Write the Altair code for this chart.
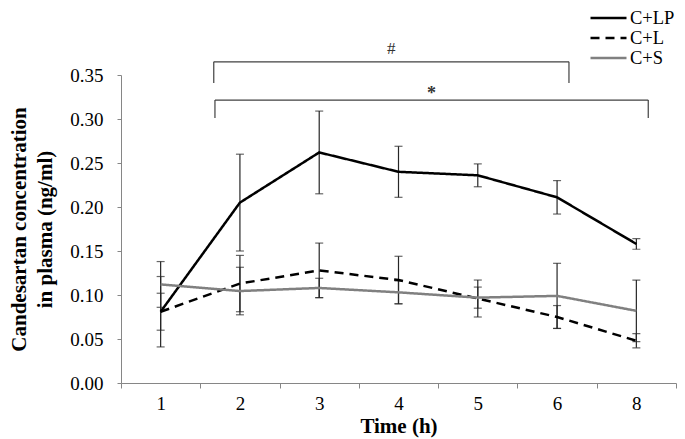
import altair as alt
import pandas as pd

# ---- data ----
time_labels = ["1", "2", "3", "4", "5", "6", "8"]
series_names = ["C+LP", "C+L", "C+S"]

lp_mean = [0.081, 0.205, 0.262, 0.240, 0.236, 0.211, 0.158]
lp_err = [0.040, 0.055, 0.047, 0.029, 0.013, 0.019, 0.006]
l_mean = [0.081, 0.113, 0.128, 0.117, 0.096, 0.075, 0.048]
l_err = [0.021, 0.032, 0.031, 0.027, 0.021, 0.013, 0.008]
s_mean = [0.112, 0.1045, 0.108, 0.103, 0.097, 0.099, 0.082]
s_err = [0.026, 0.027, 0.011, 0.013, 0.012, 0.037, 0.035]

bracket_labels = ["#", "*"]
bracket_x1 = [1.67, 1.685]
bracket_x2 = [6.15, 7.15]
bracket_y = [0.365, 0.3215]
bracket_y_end = [0.341, 0.301]
bracket_text_y = [0.3795, 0.3284]
bracket_font_size = [17, 18]
bracket_bold = [False, True]

rows = []
for name, means, errs in zip(series_names, [lp_mean, l_mean, s_mean], [lp_err, l_err, s_err]):
    for i, (m, e) in enumerate(zip(means, errs)):
        rows.append({"idx": i + 1, "series": name, "mean": m, "lo": m - e, "hi": m + e})
df = pd.DataFrame(rows)

br = pd.DataFrame({
    "label": bracket_labels, "x1": bracket_x1, "x2": bracket_x2,
    "y": bracket_y, "yend": bracket_y_end, "ty": bracket_text_y,
    "fs": bracket_font_size, "bold": bracket_bold,
})
br["xc"] = (br["x1"] + br["x2"]) / 2

FONT = "Liberation Serif"

x_scale = alt.Scale(domain=[0.5, len(time_labels) + 0.5], nice=False, zero=False)
y_scale = alt.Scale(domain=[0, 0.35], nice=False)

y_axis = alt.Axis(
    values=[0, 0.05, 0.10, 0.15, 0.20, 0.25, 0.30, 0.35],
    format=".2f",
    grid=False,
    tickSize=4,
    tickColor="#868686",
    domainColor="#868686",
    labelFont=FONT,
    labelFontSize=19,
    labelColor="black",
    labelPadding=14,
    title=["Candesartan concentration", "in plasma (ng/ml)"],
    titleFont=FONT,
    titleFontSize=21,
    titleFontWeight="bold",
    titleColor="black",
    titlePadding=14,
    titleLineHeight=26,
)

base = alt.Chart(df)

err_rule = base.mark_rule(color="#262626", strokeWidth=1.2).encode(
    x=alt.X("idx:Q", scale=x_scale, axis=None),
    y=alt.Y("lo:Q", scale=y_scale, axis=y_axis),
    y2="hi:Q",
)
err_top = base.mark_tick(color="#262626", orient="horizontal", size=8, thickness=1.2).encode(
    x=alt.X("idx:Q", scale=x_scale, axis=None), y=alt.Y("hi:Q", scale=y_scale)
)
err_bot = base.mark_tick(color="#262626", orient="horizontal", size=8, thickness=1.2).encode(
    x=alt.X("idx:Q", scale=x_scale, axis=None), y=alt.Y("lo:Q", scale=y_scale)
)

legend = alt.Legend(
    title=None,
    orient="none",
    legendX=468,
    legendY=-66,
    symbolType="stroke",
    symbolSize=1296,
    symbolStrokeWidth=2.5,
    labelFont=FONT,
    labelFontSize=18.5,
    labelColor="black",
    labelOffset=2,
    clipHeight=18,
    rowPadding=1,
    padding=0,
)

lines = base.mark_line().encode(
    x=alt.X("idx:Q", scale=x_scale, axis=None),
    y=alt.Y("mean:Q", scale=y_scale),
    color=alt.Color("series:N", scale=alt.Scale(domain=series_names, range=["#000000", "#000000", "#808080"]), legend=legend),
    strokeDash=alt.StrokeDash("series:N", scale=alt.Scale(domain=series_names, range=[[1, 0], [9, 6], [1, 0]]), legend=legend),
    strokeWidth=alt.StrokeWidth("series:N", scale=alt.Scale(domain=series_names, range=[2.5, 2.5, 2.0]), legend=legend),
)

bbase = alt.Chart(br)
b_h = bbase.mark_rule(color="#404040", strokeWidth=1.2).encode(
    x=alt.X("x1:Q", scale=x_scale, axis=None), x2="x2:Q", y=alt.Y("y:Q", scale=y_scale)
)
b_l = bbase.mark_rule(color="#404040", strokeWidth=1.2).encode(
    x=alt.X("x1:Q", scale=x_scale, axis=None), y=alt.Y("y:Q", scale=y_scale), y2="yend:Q"
)
b_r = bbase.mark_rule(color="#404040", strokeWidth=1.2).encode(
    x=alt.X("x2:Q", scale=x_scale, axis=None), y=alt.Y("y:Q", scale=y_scale), y2="yend:Q"
)


def bracket_text(bold):
    return bbase.transform_filter(
        alt.datum.bold == bold
    ).mark_text(
        font=FONT, color="#333333", baseline="middle", fontWeight="bold" if bold else "normal"
    ).encode(
        x=alt.X("xc:Q", scale=x_scale, axis=None),
        y=alt.Y("ty:Q", scale=y_scale),
        text="label:N",
        size=alt.Size("fs:Q", scale=None, legend=None),
    )


data_layers = alt.layer(err_rule, err_top, err_bot, lines, b_h, b_l, b_r,
                        bracket_text(False), bracket_text(True))

# category axis (Excel style: labels centred in bands, ticks on band edges)
axis_layer = alt.Chart(pd.DataFrame({"time": time_labels})).mark_rule(opacity=0).encode(
    x=alt.X(
        "time:O",
        sort=time_labels,
        scale=alt.Scale(type="band", domain=time_labels, paddingInner=0, paddingOuter=0),
        axis=alt.Axis(
            orient="bottom",
            tickBand="extent",
            grid=False,
            tickSize=5,
            tickColor="#868686",
            domainColor="#868686",
            labelAngle=0,
            labelFont=FONT,
            labelFontSize=19,
            labelColor="black",
            labelPadding=6,
            title="Time (h)",
            titleFont=FONT,
            titleFontSize=21,
            titleFontWeight="bold",
            titleColor="black",
            titlePadding=2,
        ),
    )
)

chart = alt.layer(data_layers, axis_layer).resolve_scale(x="independent").properties(
    width=555,
    height=308,
    autosize=alt.AutoSizeParams(type="none"),
    padding={"left": 113, "top": 67, "right": 1, "bottom": 56},
    background="white",
).configure_view(stroke=None)

chart.save("out.html", embed_options={"renderer": "svg", "actions": False})
